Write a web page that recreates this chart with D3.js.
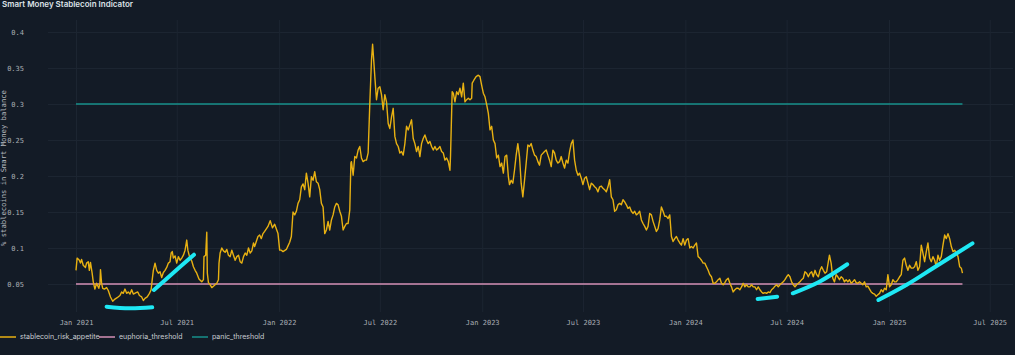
<!DOCTYPE html>
<html><head><meta charset="utf-8">
<script src="https://cdn.jsdelivr.net/npm/d3@7"></script>
<style>html,body{margin:0;padding:0;background:#131b26;overflow:hidden}</style>
</head><body>
<svg id="chart" width="1015" height="355"></svg>
<script>
const chartTitle = "Smart Money Stablecoin Indicator";
const yAxisTitle = "% stablecoins in Smart Money balance";
const startDate = Date.UTC(2021, 0, 1);
// [days since 2021-01-01, value]
const riskSeries = [
[0,.069],[2,.086],[6,.083],[8,.079],[10,.084],[13,.076],[17,.073],[19,.079],[22,.081],[24,.069],[26,.080],[29,.065],[31,.053],[34,.043],[37,.051],[41,.044],[43,.051],[44,.070],[46,.051],[48,.044],[51,.043],[55,.045],[58,.041],[62,.032],[66,.026],[70,.029],[74,.031],[79,.034],[82,.039],[85,.037],[88,.043],[91,.037],[94,.039],[97,.036],[100,.042],[103,.036],[108,.038],[111,.039],[114,.034],[118,.032],[121,.027],[124,.030],[128,.032],[132,.037],[135,.042],[137,.056],[139,.069],[142,.079],[145,.069],[148,.065],[151,.067],[154,.059],[157,.066],[160,.069],[163,.073],[166,.079],[169,.081],[171,.093],[173,.095],[175,.086],[178,.089],[181,.079],[184,.088],[187,.083],[190,.086],[193,.090],[196,.097],[199,.111],[201,.097],[204,.088],[208,.082],[211,.074],[214,.069],[217,.065],[221,.057],[226,.053],[229,.056],[230,.088],[233,.090],[235,.122],[236,.065],[238,.052],[241,.049],[244,.045],[247,.047],[250,.049],[253,.051],[256,.056],[257,.079],[259,.093],[262,.100],[265,.096],[268,.094],[271,.098],[274,.090],[277,.088],[280,.097],[283,.090],[286,.083],[289,.088],[292,.090],[295,.081],[298,.079],[301,.088],[304,.093],[307,.090],[310,.100],[313,.093],[316,.096],[319,.107],[321,.102],[324,.109],[327,.116],[330,.118],[333,.113],[336,.120],[339,.123],[345,.130],[349,.138],[353,.128],[357,.133],[363,.120],[366,.097],[369,.097],[372,.095],[378,.098],[381,.103],[384,.108],[387,.116],[390,.150],
[393,.146],[396,.151],[399,.162],[402,.167],[405,.185],[408,.189],[411,.181],[414,.204],[417,.190],[420,.171],[423,.199],[426,.194],[429,.206],[432,.192],[435,.190],[438,.181],[441,.162],[444,.157],[447,.120],[450,.125],[453,.137],[456,.125],[459,.139],[462,.146],[465,.157],[468,.162],[471,.160],[474,.151],[477,.144],[480,.125],[483,.130],[486,.134],[489,.134],[492,.153],[494,.218],[495,.220],[498,.201],[501,.227],[504,.225],[507,.236],[510,.241],[513,.225],[516,.220],[519,.222],[522,.222],[525,.232],[528,.301],[531,.361],[533,.383],[535,.361],[537,.338],[540,.306],[543,.322],[546,.324],[549,.313],[552,.292],[555,.313],[558,.303],[561,.273],[564,.266],[567,.282],[570,.294],[573,.255],[576,.245],[579,.241],[582,.232],[585,.234],[588,.229],[591,.245],[594,.269],[597,.264],[600,.271],[603,.278],[606,.252],[609,.245],[612,.234],[615,.241],[618,.227],[621,.245],[624,.252],[627,.257],[630,.250],[633,.245],[636,.248],[639,.241],[642,.236],[645,.241],[648,.236],[651,.238],[654,.241],[657,.234],[660,.232],[663,.222],[666,.225],[669,.220],[672,.208],[673,.227],[676,.317],[678,.315],[681,.303],[684,.317],[687,.313],[690,.322],[693,.310],[696,.329],[699,.303],[702,.306],[705,.308],[708,.306],[711,.308],[712,.329],[715,.333],[719,.338],[723,.340],[726,.338],[729,.326],[732,.315],[735,.310],[738,.299],[741,.287],[744,.264],[747,.269],[750,.250],[753,.245],[756,.225],[759,.229],[762,.213],[765,.218],[768,.204],[771,.227],[774,.229],[777,.199],[779,.188],[782,.194],[785,.190],[788,.208],[791,.229],[794,.245],[797,.227],[800,.190],[803,.171],[806,.194],[809,.218],[812,.243],[815,.241],[818,.245],[821,.236],[824,.229],[827,.227],[830,.220],[833,.215],
[836,.229],[842,.234],[845,.236],[848,.229],[851,.222],[854,.213],[857,.236],[860,.232],[863,.222],[866,.218],[869,.220],[872,.227],[875,.218],[878,.211],[881,.222],[884,.218],[887,.234],[890,.245],[893,.250],[896,.222],[899,.208],[902,.201],[905,.204],[908,.197],[911,.188],[914,.197],[917,.199],[920,.190],[923,.181],[926,.190],[929,.188],[932,.185],[935,.183],[938,.178],[941,.185],[944,.186],[947,.183],[950,.181],[953,.178],[956,.185],[959,.195],[962,.171],[965,.167],[968,.151],[971,.153],[974,.160],[977,.162],
[980,.160],[983,.167],[986,.164],[989,.160],[992,.155],[995,.157],[998,.151],[1001,.148],[1004,.151],[1007,.146],[1010,.148],[1013,.151],[1016,.139],[1019,.134],[1022,.130],[1025,.125],[1028,.130],[1031,.148],[1034,.146],[1037,.137],[1040,.130],[1043,.123],[1046,.127],[1049,.139],[1052,.157],[1055,.151],[1058,.144],[1061,.144],[1064,.141],[1067,.146],[1070,.116],[1073,.109],[1076,.113],[1079,.116],[1082,.111],[1085,.107],[1088,.104],[1091,.113],[1094,.104],[1097,.111],[1100,.113],[1103,.100],[1106,.102],[1109,.100],[1112,.104],[1115,.107],[1118,.088],[1121,.086],[1124,.083],[1127,.079],[1130,.079],[1133,.074],[1136,.069],[1139,.063],[1142,.060],[1145,.051],[1148,.051],[1151,.053],[1154,.056],[1157,.058],[1160,.051],[1163,.049],[1166,.052],[1169,.056],[1172,.058],[1175,.051],[1178,.046],[1181,.039],[1184,.042],[1187,.044],[1190,.044],[1193,.042],[1196,.046],[1199,.051],[1202,.046],[1205,.049],[1208,.046],[1211,.046],[1214,.049],[1217,.046],[1220,.046],
[1223,.042],[1226,.046],[1229,.042],[1232,.039],[1235,.037],[1238,.038],[1241,.037],[1244,.039],[1247,.038],[1250,.042],[1253,.044],[1256,.047],[1259,.049],[1262,.046],[1265,.049],[1268,.051],[1271,.053],[1274,.056],[1277,.060],[1280,.063],[1283,.060],[1286,.053],[1289,.049],[1292,.046],[1295,.049],[1298,.051],[1301,.053],[1304,.056],[1307,.058],[1310,.067],[1313,.065],[1316,.060],[1319,.065],[1322,.067],[1325,.060],[1328,.069],[1331,.063],[1334,.060],[1337,.069],[1340,.074],[1343,.069],[1346,.065],[1349,.067],[1352,.081],[1354,.090],[1357,.079],[1360,.058],[1363,.053],[1366,.063],[1369,.060],[1372,.056],[1375,.060],[1378,.058],[1381,.053],[1384,.056],[1387,.053],[1390,.056],[1393,.051],[1396,.053],[1399,.056],[1402,.052],[1405,.051],[1408,.053],[1411,.051],[1414,.049],[1417,.053],[1420,.046],[1423,.047],[1426,.043],[1429,.039],[1432,.037],[1435,.036],[1438,.033],[1441,.035],[1444,.037],[1447,.042],[1450,.039],[1453,.044],[1456,.042],[1459,.063],[1462,.046],[1465,.049],[1468,.056],[1471,.053],[1474,.053],[1477,.056],[1480,.060],[1483,.063],[1486,.083],[1489,.086],[1492,.076],[1495,.069],[1498,.076],[1501,.072],[1504,.072],[1507,.074],[1510,.081],[1513,.069],[1516,.074],[1519,.104],[1522,.093],[1525,.081],[1528,.095],[1531,.107],[1534,.086],[1537,.081],[1540,.088],[1543,.083],[1546,.074],[1549,.090],[1552,.083],[1555,.088],[1558,.104],[1561,.118],[1564,.113],[1567,.120],[1570,.113],[1573,.102],[1576,.095],[1579,.097],[1582,.093],[1585,.088],[1588,.074],[1591,.072],[1593,.065]
];
const euphoriaThreshold = 0.05;
const panicThreshold = 0.3;
const thresholdSpanDays = [0, 1593];
const yTicks = [0.05, 0.1, 0.15, 0.2, 0.25, 0.3, 0.35, 0.4];
const yTickLabels = ["0.05", "0.1", "0.15", "0.2", "0.25", "0.3", "0.35", "0.4"];
const xTickDates = ["2021-01-01","2021-07-01","2022-01-01","2022-07-01","2023-01-01","2023-07-01","2024-01-01","2024-07-01","2025-01-01","2025-07-01"];
const xTickLabels = ["Jan 2021","Jul 2021","Jan 2022","Jul 2022","Jan 2023","Jul 2023","Jan 2024","Jul 2024","Jan 2025","Jul 2025"];
const legendNames = ["stablecoin_risk_appetite", "euphoria_threshold", "panic_threshold"];
const seriesColors = ["#e8b112", "#d590b6", "#17908b"];
// hand-drawn cyan marks: [days, value]
const annotationStrokes = [
  [[55,.0185],[96,.0163],[137,.0176]],
  [[140,.0417],[175,.0657],[212,.0907]],
  [[1225,.0292],[1260,.0324]],
  [[1288,.0371],[1336,.0532],[1386,.0774]],
  [[1442,.0278],[1492,.0486],[1540,.0718],[1611,.1065]]
];

const DAY = 86400000;
const toDate = d => new Date(startDate + d * DAY);

const svg = d3.select("#chart");
svg.append("rect").attr("width", 1015).attr("height", 355).attr("fill", "#131b26");

const x = d3.scaleUtc().domain([new Date("2021-01-01"), new Date("2025-01-01")]).range([76, 889]);
const y = d3.scaleLinear().domain([0.05, 0.4]).range([284, 32]);
const plotLeft = 48, plotRight = 1013, plotTop = 20, plotBottom = 312;
const mono = "'DejaVu Sans Mono', monospace";
const sans = "Inter, 'Noto Sans', sans-serif";

// grid
const gridY = svg.append("g").attr("transform", `translate(${plotLeft},0)`)
  .call(d3.axisLeft(y).tickValues(yTicks).tickSize(-(plotRight - plotLeft)).tickFormat(""));
gridY.select(".domain").remove();
gridY.selectAll("line").attr("stroke", "#1c2531");
const xDates = xTickDates.map(s => new Date(s));
const gridX = svg.append("g").attr("transform", `translate(0,${plotBottom})`)
  .call(d3.axisBottom(x).tickValues(xDates).tickSize(-(plotBottom - plotTop)).tickFormat(""));
gridX.select(".domain").remove();
gridX.selectAll("line").attr("stroke", "#1c2531");

// y labels
const axY = svg.append("g").attr("transform", "translate(24,0)")
  .call(d3.axisLeft(y).tickValues(yTicks).tickSize(0).tickPadding(0).tickFormat((d, i) => yTickLabels[i]));
axY.select(".domain").remove();
axY.selectAll("text").attr("font-family", mono).attr("font-size", 7).attr("fill", "#a9aeb4");

// x labels
const axX = svg.append("g").attr("transform", "translate(0,323)")
  .call(d3.axisBottom(x).tickValues(xDates).tickSize(0).tickPadding(0).tickFormat((d, i) => xTickLabels[i]));
axX.select(".domain").remove();
axX.selectAll("text").attr("y", 0).attr("dy", "0.35em").attr("font-family", mono).attr("font-size", 7).attr("fill", "#a9aeb4");

// y title
svg.append("text").attr("transform", "translate(3.3,168) rotate(-90)")
  .attr("text-anchor", "middle").attr("dy", "0.35em")
  .attr("font-family", mono).attr("font-size", 7.2).attr("fill", "#b3b8be").text(yAxisTitle);

// title
svg.append("text").attr("x", 2).attr("y", 7).attr("font-family", sans).attr("font-weight", 600)
  .attr("font-size", 8).attr("fill", "#dde1e6").text(chartTitle);

// thresholds
const line = d3.line().x(d => x(toDate(d[0]))).y(d => y(d[1]));
[[euphoriaThreshold, seriesColors[1]], [panicThreshold, seriesColors[2]]].forEach(([v, c]) => {
  svg.append("path").datum(thresholdSpanDays.map(d => [d, v])).attr("d", line)
    .attr("fill", "none").attr("stroke", c).attr("stroke-width", 1.5);
});

// main series
svg.append("path").datum(riskSeries).attr("d", line)
  .attr("fill", "none").attr("stroke", seriesColors[0]).attr("stroke-width", 1.4).attr("stroke-linejoin", "round");

// annotations
const smooth = d3.line().x(d => x(toDate(d[0]))).y(d => y(d[1])).curve(d3.curveCatmullRom);
annotationStrokes.forEach(s => {
  svg.append("path").datum(s).attr("d", smooth).attr("fill", "none")
    .attr("stroke", "#1ee8f4").attr("stroke-width", 4).attr("stroke-linecap", "round");
});

// legend
const legendX = [0, 99, 192];
const lg = svg.append("g").attr("transform", "translate(0,337)");
legendNames.forEach((n, i) => {
  lg.append("line").attr("x1", legendX[i]).attr("x2", legendX[i] + 16).attr("y1", 0).attr("y2", 0)
    .attr("stroke", seriesColors[i]).attr("stroke-width", 1.5);
  lg.append("text").attr("x", legendX[i] + 20).attr("y", 0).attr("dy", "0.35em")
    .attr("font-family", sans).attr("font-size", 7).attr("fill", "#c9cdd2").text(n);
});
</script>
</body></html>
